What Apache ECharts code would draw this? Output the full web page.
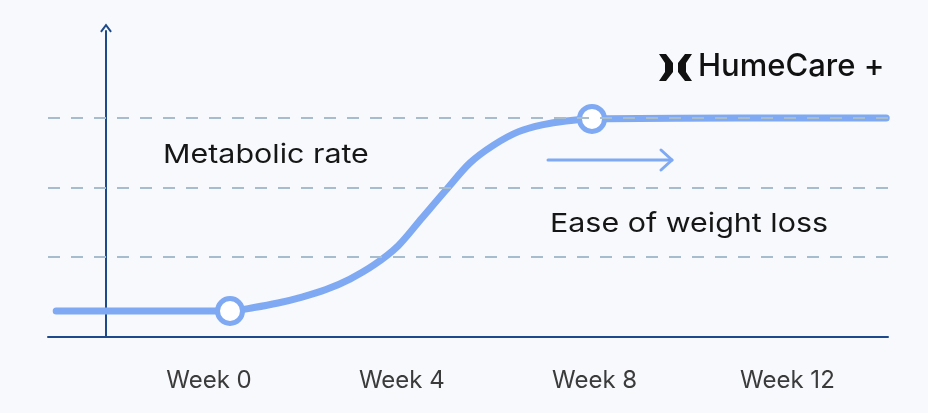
<!DOCTYPE html>
<html>
<head>
<meta charset="utf-8">
<script src="https://cdn.jsdelivr.net/npm/echarts@6/dist/echarts.min.js"></script>
<style>
html,body{margin:0;padding:0;background:#f7f9fc;}
#c{width:928px;height:413px;}
</style>
</head>
<body>
<div id="c"></div>
<script>
// Data (x in weeks, y in arbitrary "metabolic rate" units)
const curveWeeks  = [-3.17, -1.5, 0.436, 0.934, 1.432, 1.929, 2.427, 2.925, 3.423, 3.921, 4.419, 4.917, 5.415, 5.913, 6.411, 6.909, 7.407, 7.946, 11.0, 14.05];
const curveValues = [0.223, 0.223, 0.223, 0.273, 0.338, 0.424, 0.532, 0.683, 0.885, 1.158, 1.561, 1.964, 2.353, 2.612, 2.799, 2.899, 2.957, 2.986, 3.0, 3.0];
const markerWeeks  = [0.436, 7.946];
const markerValues = [0.223, 2.986];
const gridLevels   = [1, 2, 3];
const weekTicks    = [0, 4, 8, 12];
const labelMetabolic = 'Metabolic rate';
const labelEase = 'Ease of weight loss';
const brandName = 'HumeCare +';

const FONT = 'Inter, "Noto Sans", sans-serif';
const lineBlue = '#7fa9f2';
const navy = '#1d4a8a';

const chart = echarts.init(document.getElementById('c'), null, {renderer:'canvas'});
chart.setOption({
  backgroundColor: '#f7f9fc',
  animation: false,
  grid: {left: 48, right: 40, top: 31, bottom: 76},
  xAxis: {
    type: 'value', min: -3.34, max: 14.087,
    splitLine: {show: false},
    axisTick: {show: false},
    axisLine: {onZero: false, lineStyle: {color: navy, width: 2}},
    axisLabel: {
      customValues: weekTicks,
      formatter: v => 'Week ' + v,
      margin: 32, color: '#3b3b3b', fontSize: 24, fontFamily: FONT
    }
  },
  yAxis: {
    type: 'value', min: -0.151, max: 4.25,
    offset: -58,
    splitLine: {show: false},
    axisTick: {show: false},
    axisLabel: {show: false},
    axisLine: {
      show: true, onZero: false,
      lineStyle: {color: navy, width: 2},
      symbol: ['none', 'path://M0,8 L6,0 L12,8 L10.4,9.2 L6,3.2 L1.6,9.2 Z'],
      symbolSize: [13, 9],
      symbolOffset: [0, 3]
    }
  },
  series: [
    {
      type: 'line', data: [], z: 1, silent: true,
      markLine: {
        silent: true, symbol: ['none', 'none'],
        label: {show: false},
        lineStyle: {type: [12, 11], color: '#a7bccc', width: 2},
        data: gridLevels.map(v => ({yAxis: v}))
      }
    },
    {
      type: 'line', z: 2,
      data: curveWeeks.map((w, i) => [w, curveValues[i]]),
      smooth: 0.3,
      symbol: 'none',
      lineStyle: {color: lineBlue, width: 7, cap: 'round'}
    },
    {
      type: 'scatter', z: 3,
      data: markerWeeks.map((w, i) => [w, markerValues[i]]),
      symbol: 'circle', symbolSize: 25,
      itemStyle: {color: '#ffffff', borderColor: lineBlue, borderWidth: 5, opacity: 1}
    }
  ],
  graphic: [
    {type: 'text', x: 163, y: 155, scaleX: 1.17, style: {text: labelMetabolic, font: '400 26px ' + FONT, fill: '#161616', verticalAlign: 'middle'}},
    {type: 'text', x: 550, y: 224, scaleX: 1.17, style: {text: labelEase, font: '400 26px ' + FONT, fill: '#161616', verticalAlign: 'middle'}},
    {type: 'line', shape: {x1: 548, y1: 160, x2: 672, y2: 160}, style: {stroke: lineBlue, lineWidth: 3, lineCap: 'round'}},
    {type: 'polyline', shape: {points: [[661, 150], [672, 160], [661, 170]]}, style: {stroke: lineBlue, lineWidth: 3, lineCap: 'round', lineJoin: 'round', fill: null}},
    // logo icon
    {type: 'polygon', shape: {points: [[659,54],[666,54],[673,63],[673,72],[666,81],[659,81],[665,72],[665,63]]}, style: {fill: '#111'}},
    {type: 'polygon', shape: {points: [[692,54],[685,54],[678,63],[678,72],[685,81],[692,81],[686,72],[686,63]]}, style: {fill: '#111'}},
    {type: 'text', x: 698, y: 67, style: {text: brandName, font: '500 31px ' + FONT, fill: '#111', verticalAlign: 'middle'}}
  ]
});
</script>
</body>
</html>
